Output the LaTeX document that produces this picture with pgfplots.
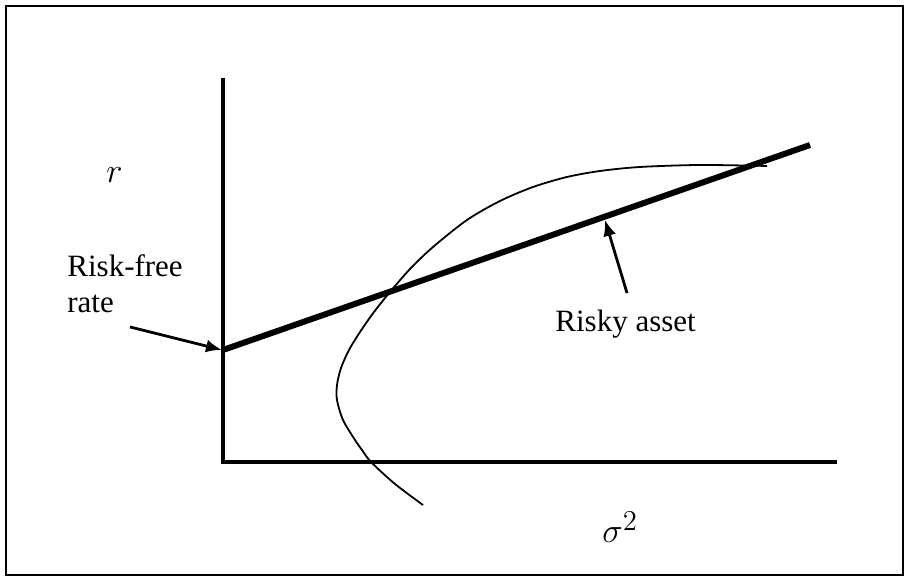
\documentclass[border=0pt]{standalone}
\usepackage{fontspec}
\setmainfont{Liberation Serif}
\usepackage{pgfplots}
\pgfplotsset{compat=1.18}
\usetikzlibrary{arrows.meta}
\begin{document}
\begin{tikzpicture}
\begin{axis}[
  scale only axis, width=454.5pt, height=290.5pt,
  xmin=0, xmax=909, ymin=0, ymax=581,
  axis lines=none, ticks=none, clip=false,
]
\path (rel axis cs:0,0) rectangle (rel axis cs:1,1);
% frame
\draw[line width=1pt] (axis cs:6,6) rectangle (axis cs:903,575);
% axes of the diagram
\addplot[black, line width=2pt, line join=miter, mark=none] coordinates {(223,503) (223,119) (837,119)};
% efficient frontier curve
\addplot[black, line width=0.9pt, smooth, tension=0.5, mark=none] coordinates {
(423,76) (395,97) (371,119) (362,131) (355,141) (343,161) (337,181) (337,196) (341,213) (349,231) (360,249) (374,269) (390,289) (410,312) (433,334) (467,361) (500,380) (533,394) (567,404) (600,410) (640,414) (700,416) (767,415)};
% capital market line
\addplot[black, line width=3pt, mark=none] coordinates {(223,231) (810,436)};
% arrows
\addplot[black, line width=1.4pt, mark=none, -{Latex[length=8pt,width=6.5pt]}] coordinates {(130,254) (222,231)};
\addplot[black, line width=1.4pt, mark=none, -{Latex[length=8pt,width=6.5pt]}] coordinates {(627,288) (605,361)};
% labels
\node[anchor=base west, inner sep=0pt, font=\fontsize{19}{22}\selectfont] at (axis cs:106,398) {$r$};
\node[anchor=base west, inner sep=0pt, font=\fontsize{15.5}{18}\selectfont] at (axis cs:67,304) {Risk-free};
\node[anchor=base west, inner sep=0pt, font=\fontsize{15.5}{18}\selectfont] at (axis cs:67,268) {rate};
\node[anchor=base west, inner sep=0pt, font=\fontsize{15.5}{18}\selectfont] at (axis cs:555,249) {Risky asset};
\node[anchor=base west, inner sep=0pt, font=\fontsize{19}{22}\selectfont] at (axis cs:602,38) {$\sigma^2$};
\end{axis}
\end{tikzpicture}
\end{document}
